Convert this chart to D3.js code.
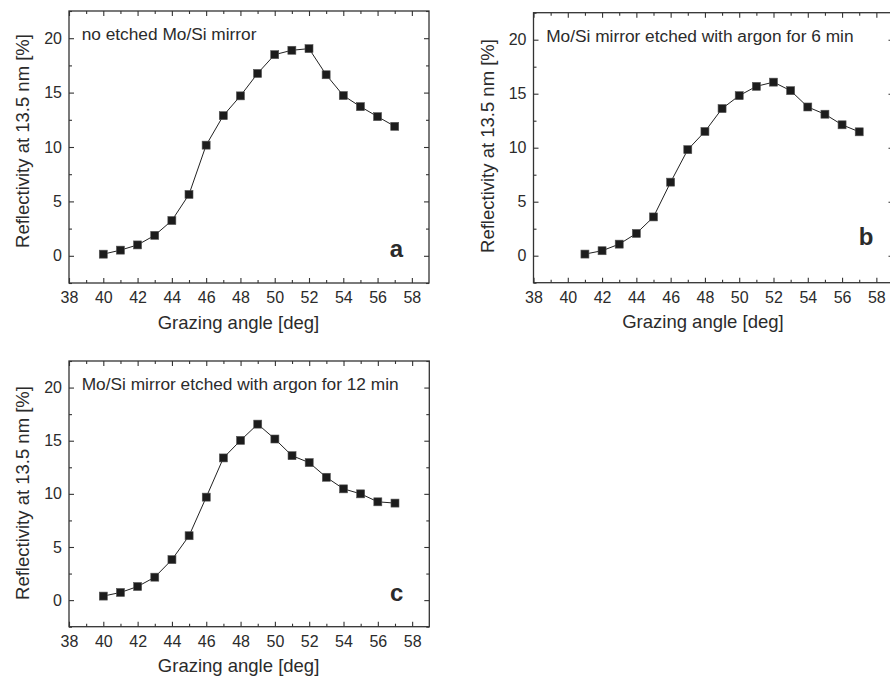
<!DOCTYPE html>
<html>
<head>
<meta charset="utf-8">
<script src="https://cdn.jsdelivr.net/npm/d3@7"></script>
<style>
  html, body { margin: 0; padding: 0; background: #fff; }
  svg { display: block; }
  text { font-family: Arial, "Liberation Sans", sans-serif; fill: #2b2b2b; }
</style>
</head>
<body>
<svg id="chart" width="890" height="677"></svg>
<script>
// ---- data ----
const anglesA = [40,41,42,43,44,45,46,47,48,49,50,51,52,53,54,55,56,57];
const reflA   = [0.15,0.52,1.0,1.88,3.24,5.64,10.17,12.88,14.7,16.76,18.49,18.89,19.04,16.64,14.73,13.71,12.79,11.9];

const anglesB = [41,42,43,44,45,46,47,48,49,50,51,52,53,54,55,56,57];
const reflB   = [0.15,0.46,1.07,2.06,3.59,6.81,9.82,11.5,13.62,14.82,15.68,16.07,15.28,13.77,13.1,12.12,11.47];

const anglesC = [40,41,42,43,44,45,46,47,48,49,50,51,52,53,54,55,56,57];
const reflC   = [0.38,0.72,1.28,2.16,3.81,6.06,9.69,13.38,15.03,16.56,15.16,13.59,12.94,11.56,10.47,10.0,9.25,9.13];

const xTickLabels = [38,40,42,44,46,48,50,52,54,56,58];
const yTickLabels = [0,5,10,15,20];
const panelTitles = ["no etched Mo/Si mirror", "Mo/Si mirror etched with argon for 6 min", "Mo/Si mirror etched with argon for 12 min"];
const panelLetters = ["a", "b", "c"];
const xTitle = "Grazing angle [deg]";
const yTitle = "Reflectivity at 13.5 nm [%]";

// ---- layout ----
const panels = [
  { x: anglesA, y: reflA, title: panelTitles[0], letter: panelLetters[0],
    left: 69, top: 11, right: 429, bottom: 283, letterDx: -26, letterY: 0, yLabelCy: 141 },
  { x: anglesB, y: reflB, title: panelTitles[1], letter: panelLetters[1],
    left: 533.5, top: 12.7, right: 893.5, bottom: 282.7, letterDx: -20, letterY: 1.1, yLabelCy: 146 },
  { x: anglesC, y: reflC, title: panelTitles[2], letter: panelLetters[2],
    left: 69, top: 361, right: 429.3, bottom: 626.7, letterDx: -26, letterY: 0, yLabelCy: 493 }
];

const svg = d3.select("#chart");
const axisColor = "#333";

panels.forEach(p => {
  const xs = d3.scaleLinear().domain([38, 59]).range([p.left, p.right]);
  const ys = d3.scaleLinear().domain([-2.5, 22.5]).range([p.bottom, p.top]);
  const g = svg.append("g");

  const majorX = xTickLabels;
  const minorX = d3.range(39, 59, 2);
  const majorY = yTickLabels;
  const minorY = [-2.5, 2.5, 7.5, 12.5, 17.5, 22.5];

  // bottom axis (ticks inward)
  g.append("g").attr("transform", `translate(0,${p.bottom})`)
    .call(d3.axisBottom(xs).tickValues(majorX).tickSize(-5).tickPadding(9).tickFormat(d3.format("d")));
  g.append("g").attr("transform", `translate(0,${p.bottom})`)
    .call(d3.axisBottom(xs).tickValues(minorX).tickSize(-3).tickFormat(""));
  // top axis
  g.append("g").attr("transform", `translate(0,${p.top})`)
    .call(d3.axisTop(xs).tickValues(majorX).tickSize(-5).tickFormat(""));
  g.append("g").attr("transform", `translate(0,${p.top})`)
    .call(d3.axisTop(xs).tickValues(minorX).tickSize(-3).tickFormat(""));
  // left axis
  g.append("g").attr("transform", `translate(${p.left},0)`)
    .call(d3.axisLeft(ys).tickValues(majorY).tickSize(-5).tickPadding(7).tickFormat(d3.format("d")));
  g.append("g").attr("transform", `translate(${p.left},0)`)
    .call(d3.axisLeft(ys).tickValues(minorY).tickSize(-3).tickFormat(""));
  // right axis
  g.append("g").attr("transform", `translate(${p.right},0)`)
    .call(d3.axisRight(ys).tickValues(majorY).tickSize(-5).tickFormat(""));
  g.append("g").attr("transform", `translate(${p.right},0)`)
    .call(d3.axisRight(ys).tickValues(minorY).tickSize(-3).tickFormat(""));

  g.selectAll(".domain").remove();
  g.selectAll(".tick line").attr("stroke", axisColor).attr("stroke-width", 1.1);
  g.selectAll(".tick text").attr("font-size", 16).attr("fill", "#2b2b2b")
    .style("font-family", "Arial, 'Liberation Sans', sans-serif");

  // frame
  g.append("rect")
    .attr("x", p.left).attr("y", p.top)
    .attr("width", p.right - p.left).attr("height", p.bottom - p.top)
    .attr("fill", "none").attr("stroke", axisColor).attr("stroke-width", 1.3);

  // data
  const pts = p.x.map((v, i) => [v, p.y[i]]);
  g.append("path")
    .datum(pts)
    .attr("fill", "none").attr("stroke", "#222").attr("stroke-width", 1)
    .attr("d", d3.line().x(d => xs(d[0])).y(d => ys(d[1])));
  const sz = 8;
  g.selectAll("rect.pt").data(pts).enter().append("rect")
    .attr("class", "pt")
    .attr("x", d => xs(d[0]) - sz / 2).attr("y", d => ys(d[1]) - sz / 2)
    .attr("width", sz).attr("height", sz)
    .attr("fill", "#1c1c1c").attr("stroke", "#555").attr("stroke-width", 0.6);

  // panel title
  g.append("text")
    .attr("x", p.left + 12.7).attr("y", ys(20) + 2)
    .attr("font-size", 17.3)
    .text(p.title);

  // letter
  g.append("text")
    .attr("x", p.right + p.letterDx).attr("y", ys(p.letterY) + 1)
    .attr("text-anchor", "end")
    .attr("font-size", 24).attr("font-weight", "bold")
    .text(p.letter);

  // x title
  g.append("text")
    .attr("x", (xs(38) + xs(58)) / 2 - 2).attr("y", p.bottom + 45.5)
    .attr("text-anchor", "middle").attr("font-size", 18.5)
    .text(xTitle);

  // y title
  g.append("text")
    .attr("transform", `translate(${p.left - 40},${p.yLabelCy}) rotate(-90)`)
    .attr("text-anchor", "middle").attr("font-size", 18.5)
    .text(yTitle);
});
</script>
</body>
</html>
